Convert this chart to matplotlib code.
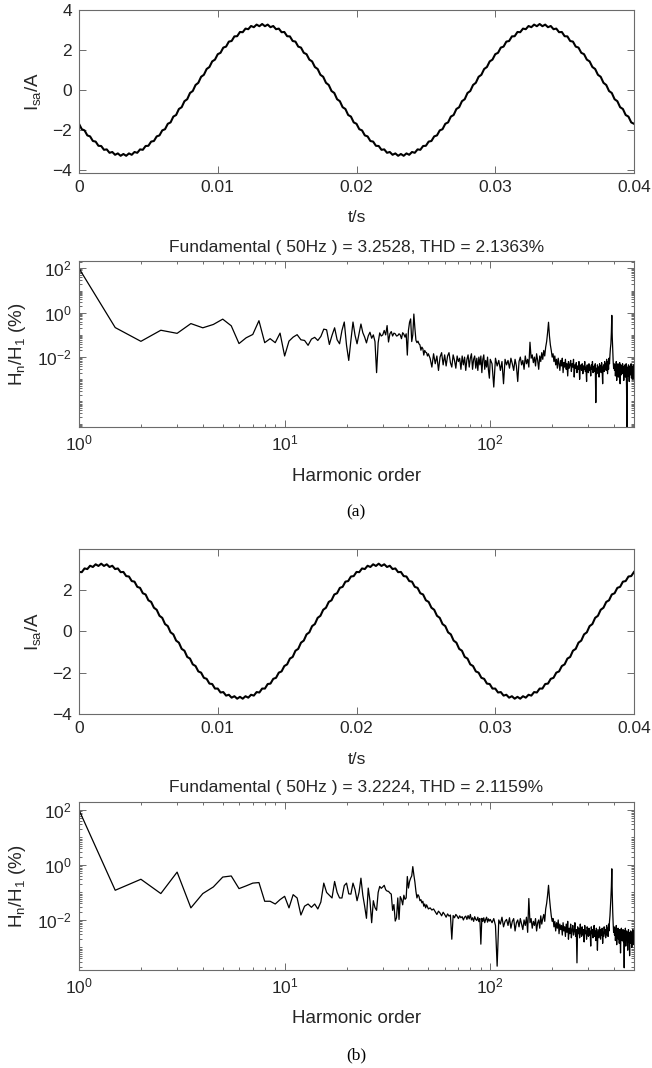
import numpy as np
import matplotlib
matplotlib.use('Agg')
import matplotlib.pyplot as plt
from matplotlib.ticker import (LogLocator, NullFormatter, FixedLocator, FixedFormatter,
                               LogFormatterSciNotation)

plt.rcParams['font.family'] = ['Liberation Sans', 'DejaVu Sans']
plt.rcParams['mathtext.fontset'] = 'custom'
plt.rcParams['mathtext.rm'] = 'Liberation Sans'
plt.rcParams['mathtext.it'] = 'Liberation Sans:italic'
plt.rcParams['mathtext.default'] = 'regular'

# ---------------- data ----------------
# time axis of the waveform plots (s), 0.2 ms samples
t = np.linspace(0.0, 0.04, 201)

# source current, case (a) (A)
isa_a = [
    -1.69, -1.96, -2.02, -2.27, -2.32, -2.55, -2.58, -2.79, -2.80, -2.99,
    -2.97, -3.14, -3.10, -3.24, -3.17, -3.29, -3.20, -3.29, -3.17, -3.24,
    -3.10, -3.14, -2.97, -2.99, -2.80, -2.79, -2.58, -2.55, -2.32, -2.27,
    -2.02, -1.96, -1.69, -1.62, -1.33, -1.25, -0.95, -0.86, -0.56, -0.46,
    -0.15, -0.05, 0.25, 0.36, 0.66, 0.76, 1.05, 1.15, 1.43, 1.52,
    1.79, 1.86, 2.12, 2.17, 2.42, 2.45, 2.68, 2.69, 2.90, 2.89,
    3.07, 3.04, 3.20, 3.14, 3.27, 3.19, 3.30, 3.19, 3.27, 3.14,
    3.20, 3.04, 3.07, 2.89, 2.90, 2.69, 2.68, 2.45, 2.42, 2.17,
    2.12, 1.86, 1.79, 1.52, 1.43, 1.15, 1.05, 0.76, 0.66, 0.36,
    0.25, -0.05, -0.15, -0.46, -0.56, -0.86, -0.95, -1.25, -1.33, -1.62,
    -1.69, -1.96, -2.02, -2.27, -2.32, -2.55, -2.58, -2.79, -2.80, -2.99,
    -2.97, -3.14, -3.10, -3.24, -3.17, -3.29, -3.20, -3.29, -3.17, -3.24,
    -3.10, -3.14, -2.97, -2.99, -2.80, -2.79, -2.58, -2.55, -2.32, -2.27,
    -2.02, -1.96, -1.69, -1.62, -1.33, -1.25, -0.95, -0.86, -0.56, -0.46,
    -0.15, -0.05, 0.25, 0.36, 0.66, 0.76, 1.05, 1.15, 1.43, 1.52,
    1.79, 1.86, 2.12, 2.17, 2.42, 2.45, 2.68, 2.69, 2.90, 2.89,
    3.07, 3.04, 3.20, 3.14, 3.27, 3.19, 3.30, 3.19, 3.27, 3.14,
    3.20, 3.04, 3.07, 2.89, 2.90, 2.69, 2.68, 2.45, 2.42, 2.17,
    2.12, 1.86, 1.79, 1.52, 1.43, 1.15, 1.05, 0.76, 0.66, 0.36,
    0.25, -0.05, -0.15, -0.46, -0.56, -0.86, -0.95, -1.25, -1.33, -1.62,
    -1.69,
]

# source current, case (b) (A)
isa_b = [
    2.87, 2.86, 3.04, 3.01, 3.17, 3.11, 3.24, 3.16, 3.27, 3.16,
    3.24, 3.11, 3.17, 3.01, 3.04, 2.86, 2.87, 2.67, 2.65, 2.43,
    2.40, 2.15, 2.10, 1.84, 1.78, 1.50, 1.42, 1.14, 1.04, 0.75,
    0.65, 0.35, 0.25, -0.05, -0.15, -0.45, -0.55, -0.85, -0.94, -1.24,
    -1.32, -1.60, -1.68, -1.94, -2.00, -2.25, -2.30, -2.53, -2.55, -2.77,
    -2.77, -2.96, -2.94, -3.11, -3.07, -3.21, -3.14, -3.26, -3.17, -3.26,
    -3.14, -3.21, -3.07, -3.11, -2.94, -2.96, -2.77, -2.77, -2.55, -2.53,
    -2.30, -2.25, -2.00, -1.94, -1.68, -1.60, -1.32, -1.24, -0.94, -0.85,
    -0.55, -0.45, -0.15, -0.05, 0.25, 0.35, 0.65, 0.75, 1.04, 1.14,
    1.42, 1.50, 1.78, 1.84, 2.10, 2.15, 2.40, 2.43, 2.65, 2.67,
    2.87, 2.86, 3.04, 3.01, 3.17, 3.11, 3.24, 3.16, 3.27, 3.16,
    3.24, 3.11, 3.17, 3.01, 3.04, 2.86, 2.87, 2.67, 2.65, 2.43,
    2.40, 2.15, 2.10, 1.84, 1.78, 1.50, 1.42, 1.14, 1.04, 0.75,
    0.65, 0.35, 0.25, -0.05, -0.15, -0.45, -0.55, -0.85, -0.94, -1.24,
    -1.32, -1.60, -1.68, -1.94, -2.00, -2.25, -2.30, -2.53, -2.55, -2.77,
    -2.77, -2.96, -2.94, -3.11, -3.07, -3.21, -3.14, -3.26, -3.17, -3.26,
    -3.14, -3.21, -3.07, -3.11, -2.94, -2.96, -2.77, -2.77, -2.55, -2.53,
    -2.30, -2.25, -2.00, -1.94, -1.68, -1.60, -1.32, -1.24, -0.94, -0.85,
    -0.55, -0.45, -0.15, -0.05, 0.25, 0.35, 0.65, 0.75, 1.04, 1.14,
    1.42, 1.50, 1.78, 1.84, 2.10, 2.15, 2.40, 2.43, 2.65, 2.67,
    2.87,
]

# harmonic orders of the spectrum points
h_low = np.arange(1.0, 50.5, 0.5)    # 1 .. 50, step 0.5
h_mid = np.arange(51, 101, 1)        # 51 .. 100
h_high = np.arange(102, 501, 2)      # 102 .. 500
harm = np.concatenate([h_low, h_mid, h_high])

# log10 of Hn/H1 (%), case (a)
lg_a_low = [
    2.00, -0.67, -1.29, -0.79, -0.93, -0.49, -0.68, -0.53, -0.29, -0.59,
    -1.39, -1.13, -0.98, -0.36, -1.35, -1.17, -1.35, -0.92, -1.95, -1.28,
    -1.10, -0.99, -1.22, -1.25, -1.47, -1.19, -1.11, -1.25, -1.07, -0.74,
    -0.77, -1.43, -1.02, -0.68, -1.22, -1.40, -0.80, -0.42, -1.47, -2.15,
    -1.25, -0.42, -1.02, -1.40, -0.95, -0.51, -0.90, -1.10, -1.36, -1.05,
    -0.88, -1.15, -1.00, -1.30, -2.70, -1.35, -0.91, -1.05, -1.00, -0.80,
    -1.00, -0.58, -1.32, -0.95, -0.85, -1.05, -0.92, -0.95, -1.05, -1.03,
    -0.95, -1.00, -1.17, -0.90, -0.97, -1.10, -0.95, -1.91, -0.80, -0.43,
    -0.28, -1.30, -1.00, -0.06, -0.70, -1.24, -1.35, -1.28, -1.40, -1.45,
    -1.69, -1.55, -1.62, -1.91, -1.70, -1.78, -1.80, -1.95, -1.85,
]
lg_a_mid = [
    -2.06, -2.45, -1.85, -2.30, -1.95, -2.60, -2.00, -1.80, -2.35, -1.90,
    -2.40, -1.95, -1.80, -2.25, -2.45, -1.90, -2.15, -2.50, -1.95, -2.20,
    -2.05, -2.55, -1.95, -2.35, -2.00, -2.60, -2.10, -1.90, -2.45, -2.05,
    -1.85, -2.55, -2.10, -1.95, -2.50, -2.05, -2.60, -2.00, -2.35, -1.95,
    -2.70, -2.10, -1.90, -2.55, -2.15, -2.45, -2.00, -2.60, -2.95, -2.10,
]
lg_a_high = [
    -2.30, -3.35, -2.05, -2.40, -2.15, -2.60, -2.20, -3.20, -2.10, -2.35,
    -2.15, -2.50, -2.05, -2.30, -2.60, -2.10, -2.40, -3.10, -2.20, -2.00,
    -2.35, -2.15, -2.55, -1.95, -2.30, -2.10, -2.45, -1.33, -2.05, -1.90,
    -2.25, -2.00, -2.40, -1.85, -2.15, -2.55, -1.95, -2.20, -1.80, -2.10,
    -1.70, -1.95, -1.55, -1.30, -0.90, -0.43, -1.05, -1.45, -1.70, -2.00,
    -1.85, -2.20, -1.95, -2.35, -2.10, -2.50, -2.05, -2.30, -2.60, -2.15,
    -2.40, -2.05, -2.70, -2.25, -2.45, -2.10, -2.55, -2.30, -2.85, -2.20,
    -2.50, -2.35, -2.15, -2.65, -2.30, -2.45, -2.10, -2.90, -2.35, -2.50,
    -2.25, -2.70, -2.40, -2.55, -2.20, -3.00, -2.45, -2.35, -2.60, -2.30,
    -2.75, -2.40, -2.55, -2.20, -2.65, -2.45, -3.10, -2.35, -2.55, -2.70,
    -2.30, -2.60, -2.45, -2.85, -2.35, -2.55, -2.20, -2.70, -2.50, -2.40,
    -2.65, -2.30, -4.05, -2.50, -2.75, -2.35, -2.60, -2.45, -2.90, -2.30,
    -2.55, -2.40, -2.70, -2.25, -2.60, -3.20, -2.45, -2.35, -2.65, -2.20,
    -2.50, -2.30, -2.60, -2.10, -2.40, -2.75, -2.20, -2.55, -2.05, -2.30,
    -1.90, -1.60, -1.40, -0.90, -0.12, -1.10, -1.70, -2.20, -2.50, -2.30,
    -2.60, -2.35, -2.85, -2.50, -2.20, -3.05, -2.45, -2.70, -2.30, -2.90,
    -2.40, -2.65, -2.25, -3.20, -2.55, -2.35, -2.80, -2.45, -2.60, -2.30,
    -2.75, -2.50, -3.05, -2.40, -2.65, -2.35, -2.90, -2.55, -2.30, -3.40,
    -5.30, -2.60, -2.45, -2.85, -2.35, -2.70, -3.10, -2.50, -2.40, -2.80,
    -2.55, -2.30, -2.95, -2.45, -2.70, -2.40, -3.00, -2.50, -2.35, -2.60,
]

# log10 of Hn/H1 (%), case (b)
lg_b_low = [
    2.00, -0.92, -0.52, -1.04, -0.26, -1.56, -1.04, -0.80, -0.44, -0.40,
    -0.86, -0.76, -0.66, -0.64, -1.32, -1.32, -1.42, -1.26, -1.14, -1.56,
    -1.08, -1.20, -1.82, -1.50, -1.42, -1.54, -1.42, -1.60, -1.35, -0.66,
    -1.00, -1.10, -1.20, -0.60, -1.00, -1.20, -1.20, -0.75, -0.66, -1.05,
    -1.06, -0.66, -0.90, -1.30, -1.00, -0.48, -1.10, -1.50, -1.94, -0.84,
    -1.30, -2.10, -1.30, -1.55, -1.65, -1.00, -0.78, -0.85, -0.80, -0.74,
    -0.90, -0.95, -0.96, -1.02, -1.06, -1.65, -1.44, -2.04, -1.92, -1.20,
    -1.98, -1.15, -1.25, -1.45, -1.10, -1.25, -1.20, -0.42, -0.84, -0.60,
    -0.48, -0.40, -0.06, -0.36, -0.62, -0.96, -1.20, -1.08, -1.14, -1.30,
    -1.26, -1.38, -1.32, -1.50, -1.42, -1.56, -1.45, -1.52, -1.60,
]
lg_b_mid = [
    -1.56, -1.64, -1.60, -1.70, -1.80, -1.68, -1.75, -1.85, -1.72, -1.80,
    -1.90, -1.78, -1.86, -1.82, -2.70, -1.84, -1.92, -1.80, -1.86, -1.95,
    -1.85, -1.92, -1.88, -2.00, -1.90, -1.86, -1.98, -1.84, -1.96, -1.80,
    -2.00, -1.92, -2.05, -1.88, -1.98, -2.02, -1.90, -2.06, -1.95, -2.88,
    -1.94, -2.05, -1.92, -2.10, -1.98, -1.90, -2.08, -1.96, -2.04, -1.98,
]
lg_b_high = [
    -2.10, -1.95, -2.20, -3.68, -2.00, -2.15, -1.90, -2.25, -2.05, -1.98,
    -2.20, -1.92, -2.30, -2.05, -1.95, -2.40, -2.10, -2.00, -2.25, -1.95,
    -2.15, -2.35, -2.00, -2.20, -1.90, -2.45, -1.22, -2.10, -1.95, -2.30,
    -2.05, -2.20, -1.95, -2.40, -2.10, -2.00, -2.30, -1.85, -2.15, -1.95,
    -1.80, -2.05, -1.60, -1.40, -1.10, -0.74, -1.20, -1.55, -1.85, -2.05,
    -1.95, -2.25, -2.05, -2.40, -2.10, -2.30, -2.00, -2.50, -2.15, -2.35,
    -2.20, -2.55, -2.10, -2.40, -2.25, -2.60, -2.15, -2.45, -2.05, -2.70,
    -2.30, -2.50, -2.15, -2.65, -2.35, -2.20, -2.55, -2.40, -2.10, -2.60,
    -2.35, -3.56, -2.25, -2.50, -2.30, -2.65, -2.15, -2.45, -2.60, -2.25,
    -2.55, -2.35, -2.80, -2.20, -2.50, -2.40, -2.70, -2.25, -2.45, -2.60,
    -2.30, -2.55, -2.40, -2.95, -2.25, -2.50, -2.35, -2.65, -2.45, -2.20,
    -2.60, -2.40, -2.75, -2.30, -2.55, -3.10, -2.35, -2.50, -2.65, -2.25,
    -2.50, -2.70, -2.35, -2.55, -2.30, -2.85, -2.45, -2.60, -2.25, -2.50,
    -2.35, -2.65, -2.40, -2.20, -2.55, -2.30, -2.60, -2.15, -2.40, -2.05,
    -1.85, -1.55, -1.20, -0.80, -0.14, -1.05, -1.70, -2.15, -2.45, -2.25,
    -2.55, -2.30, -2.75, -2.45, -2.20, -2.90, -2.40, -2.60, -2.30, -2.70,
    -2.45, -2.85, -2.35, -2.60, -3.20, -2.50, -2.30, -2.75, -2.45, -2.60,
    -2.35, -2.80, -2.50, -3.74, -2.40, -2.65, -2.30, -2.95, -2.55, -2.40,
    -2.70, -2.45, -3.10, -2.55, -2.35, -2.80, -2.50, -3.30, -2.45, -2.65,
    -2.40, -2.85, -2.55, -3.00, -2.45, -2.70, -2.35, -2.90, -2.60, -2.50,
]

t_ticks = [0.0, 0.01, 0.02, 0.03, 0.04]
t_ticklabels = ['0', '0.01', '0.02', '0.03', '0.04']
titles = ['Fundamental ( 50Hz ) = 3.2528, THD = 2.1363%',
          'Fundamental ( 50Hz ) = 3.2224, THD = 2.1159%']
captions = ['(a)', '(b)']

# ---------------- figure ----------------
W_PX, H_PX = 652, 1068
fig = plt.figure(figsize=(W_PX / 100, H_PX / 100), dpi=100)
FRAME = '#6b6b6b'
TXT = '#262626'
FS = 12.5

LEFT, RIGHT = 79, 634


def rect(top, bottom):
    return [LEFT / W_PX, 1 - bottom / H_PX, (RIGHT - LEFT) / W_PX, (bottom - top) / H_PX]


def style(ax):
    for s in ax.spines.values():
        s.set_color(FRAME)
        s.set_linewidth(0.8)
    ax.tick_params(which='both', direction='in', top=True, right=True,
                   color=FRAME, labelcolor=TXT, labelsize=FS, width=0.7)
    ax.tick_params(which='major', length=5, pad=5)
    ax.tick_params(which='minor', length=2.5)


def wave_axes(top, bottom, y, ylim, yticks, xlab_y):
    ax = fig.add_axes(rect(top, bottom))
    ax.plot(t, y, color='black', lw=1.5)
    ax.set_xlim(0, 0.04)
    ax.set_ylim(*ylim)
    ax.xaxis.set_major_locator(FixedLocator(t_ticks))
    ax.xaxis.set_major_formatter(FixedFormatter(t_ticklabels))
    ax.set_yticks(yticks)
    style(ax)
    ax.set_xlabel('t/s', fontsize=FS, color=TXT, va='center')
    ax.xaxis.set_label_coords(0.5, xlab_y)
    ax.set_ylabel('I$_{sa}$/A', fontsize=FS + 1, color=TXT, va='center')
    ax.yaxis.set_label_coords(-0.083, 0.5)
    return ax


def spec_axes(top, bottom, lg, ylim_lg, title, xlab_y, title_y):
    ax = fig.add_axes(rect(top, bottom))
    ax.plot(harm, 10.0 ** np.asarray(lg), color='black', lw=0.9)
    ax.set_xscale('log')
    ax.set_yscale('log')
    ax.set_xlim(1, 500)
    ax.set_ylim(10 ** ylim_lg[0], 10 ** ylim_lg[1])
    ax.xaxis.set_major_locator(FixedLocator([1, 10, 100]))
    ax.xaxis.set_minor_locator(LogLocator(base=10, subs=np.arange(2, 10), numticks=50))
    ax.xaxis.set_minor_formatter(NullFormatter())
    ax.yaxis.set_major_locator(FixedLocator([1e-2, 1e0, 1e2]))
    ax.yaxis.set_minor_locator(LogLocator(base=10, subs=np.arange(1, 10), numticks=50))
    ax.yaxis.set_minor_formatter(NullFormatter())
    ax.xaxis.set_major_formatter(LogFormatterSciNotation())
    ax.yaxis.set_major_formatter(LogFormatterSciNotation())
    style(ax)
    ax.set_xlabel('Harmonic order', fontsize=FS + 1, color=TXT, va='center')
    ax.xaxis.set_label_coords(0.5, xlab_y)
    ax.set_ylabel('H$_n$/H$_1$ (%)', fontsize=FS + 1, color=TXT, va='center')
    ax.yaxis.set_label_coords(-0.11, 0.5)
    ax.text(0.5, title_y, title, transform=ax.transAxes, ha='center', va='center',
            fontsize=FS, color=TXT)
    return ax


lg_a = lg_a_low + lg_a_mid + lg_a_high
lg_b = lg_b_low + lg_b_mid + lg_b_high

wave_axes(10, 173, isa_a, (-4.15, 4.0), [-4, -2, 0, 2, 4], -0.276)
spec_axes(261, 427, lg_a, (-5.15, 2.33), titles[0], -0.30, 1.084)
wave_axes(549, 714, isa_b, (-4.0, 3.98), [-4, -2, 0, 2], -0.273)
spec_axes(802, 970, lg_b, (-3.82, 2.29), titles[1], -0.29, 1.089)

fig.text(356 / W_PX, 1 - 512 / H_PX, captions[0], ha='center', va='center',
         fontsize=12.5, family=['Liberation Serif'], color='black')
fig.text(356 / W_PX, 1 - 1055 / H_PX, captions[1], ha='center', va='center',
         fontsize=12.5, family=['Liberation Serif'], color='black')

fig.savefig('out.png', dpi=100)
